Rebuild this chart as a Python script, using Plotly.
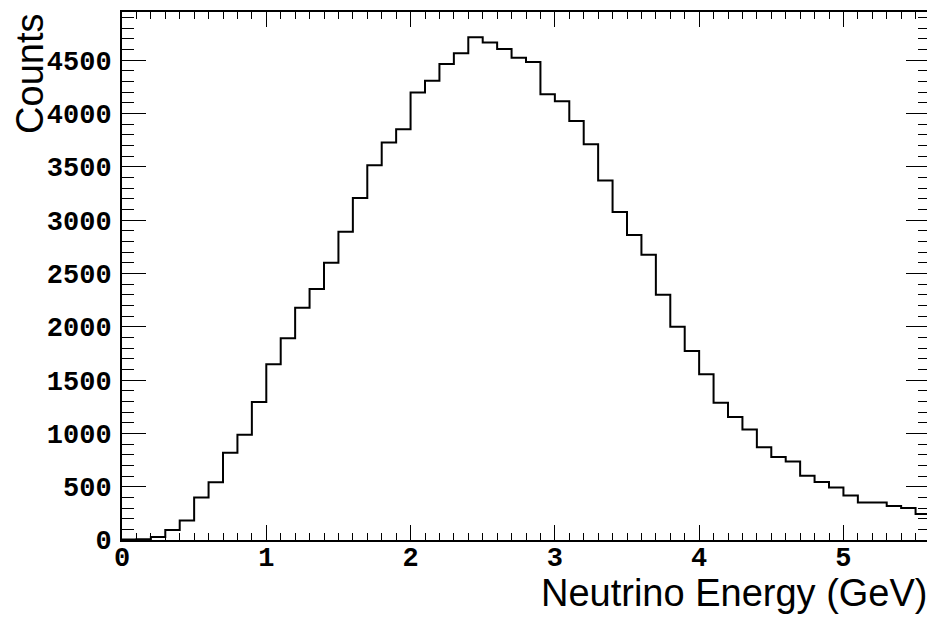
import numpy as np
import plotly.graph_objects as go

# Histogram: neutrino energy, 56 bins of 0.1 GeV from 0 to 5.6
bin_low = 0.0
bin_width = 0.1
counts = [5, 8, 27, 94, 184, 398, 542, 819, 987, 1294,
          1649, 1893, 2177, 2355, 2599, 2890, 3207, 3515, 3729, 3853,
          4197, 4308, 4465, 4565, 4716, 4666, 4605, 4522, 4482, 4181,
          4114, 3930, 3712, 3371, 3077, 2860, 2676, 2301, 2000, 1773,
          1555, 1288, 1154, 1037, 870, 779, 736, 602, 545, 492,
          418, 351, 351, 318, 301, 244]

x_tick_vals = [0, 1, 2, 3, 4, 5]
x_tick_text = ["0", "1", "2", "3", "4", "5"]
y_tick_vals = [0, 500, 1000, 1500, 2000, 2500, 3000, 3500, 4000, 4500]
y_tick_text = [str(v) for v in y_tick_vals]

x_title = "Neutrino Energy (GeV)"
y_title = "Counts"

n = len(counts)
edges = bin_low + bin_width * np.arange(n + 1)
step_y = list(counts) + [counts[-1]]
x_max = float(edges[-1])
y_max = 1.05 * max(counts)

fig = go.Figure()
fig.add_trace(go.Scatter(
    x=edges, y=step_y, mode="lines", line_shape="hv",
    line=dict(color="black", width=2), showlegend=False, hoverinfo="skip"))

tick_font = dict(family="Liberation Mono", size=27, color="black", weight="bold")

# page body has an 8px default margin, so the figure is sized to fit the window
fig.update_layout(
    width=927, height=612,
    margin=dict(l=114, r=5, t=4, b=80),
    paper_bgcolor="white", plot_bgcolor="white",
    xaxis=dict(range=[0, x_max], tickvals=x_tick_vals, ticktext=x_tick_text,
               ticks="inside", ticklen=15, tickwidth=1, tickcolor="black",
               showline=True, linecolor="black", linewidth=2, mirror="ticks",
               showgrid=False, zeroline=False, tickfont=tick_font, automargin=False,
               ticklabelstandoff=-8,
               minor=dict(dtick=0.1, tick0=0, ticks="inside", ticklen=7,
                          tickwidth=1, tickcolor="black", showgrid=False)),
    yaxis=dict(range=[0, y_max], tickvals=y_tick_vals, ticktext=y_tick_text,
               ticks="inside", ticklen=24, tickwidth=1, tickcolor="black",
               showline=True, linecolor="black", linewidth=2, mirror="ticks",
               showgrid=False, zeroline=False, tickfont=tick_font, automargin=False,
               ticklabelstandoff=3,
               minor=dict(dtick=100, tick0=0, ticks="inside", ticklen=12,
                          tickwidth=1, tickcolor="black", showgrid=False)),
    annotations=[
        dict(text=x_title, xref="paper", yref="paper", x=1.0, y=-0.056,
             xanchor="right", yanchor="top", showarrow=False,
             font=dict(family="Liberation Sans", size=38, color="black")),
        dict(text=y_title, xref="paper", yref="paper", x=-0.114, y=1.0,
             xanchor="center", yanchor="top", showarrow=False, textangle=-90,
             font=dict(family="Liberation Sans", size=38, color="black")),
    ],
)

fig.write_html("out.html")
